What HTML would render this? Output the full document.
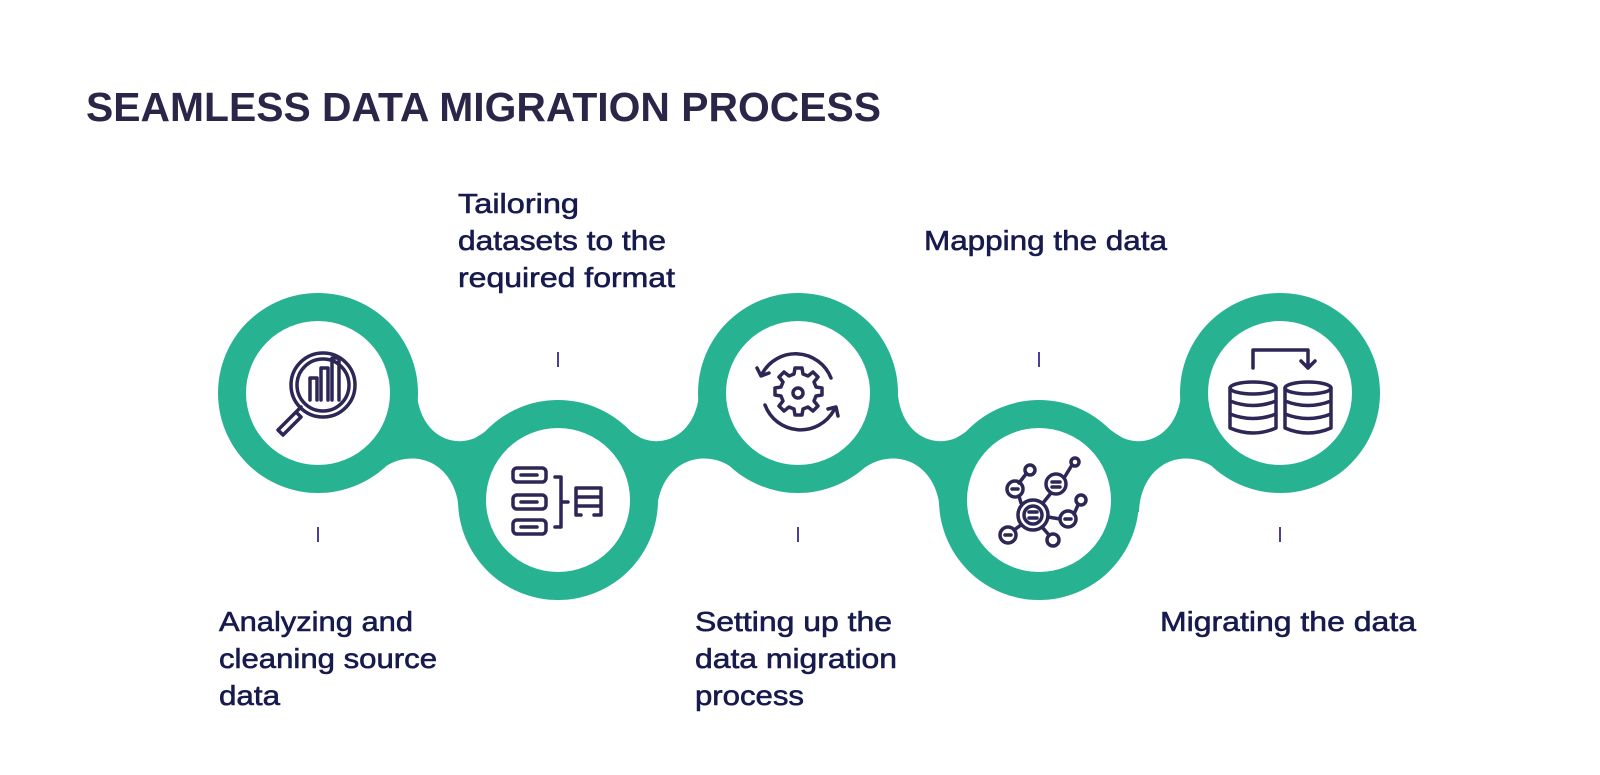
<!DOCTYPE html>
<html><head><meta charset="utf-8"><style>
html,body{margin:0;padding:0;background:#fff;width:1600px;height:775px;overflow:hidden}
svg{display:block}
text{font-family:"Liberation Sans",sans-serif;fill:#161a4d}
</style></head><body>
<svg width="1600" height="775" viewBox="0 0 1600 775" xmlns="http://www.w3.org/2000/svg">
<text x="86" y="121" font-size="41" font-weight="bold" style="fill:#2b2648" textLength="795" lengthAdjust="spacingAndGlyphs">SEAMLESS DATA MIGRATION PROCESS</text>

<g font-size="28" stroke="#161a4d" stroke-width="0.6">
<text x="458" y="213" textLength="121" lengthAdjust="spacingAndGlyphs">Tailoring</text>
<text x="458" y="250" textLength="208" lengthAdjust="spacingAndGlyphs">datasets to the</text>
<text x="458" y="287" textLength="217" lengthAdjust="spacingAndGlyphs">required format</text>
<text x="924" y="250" textLength="243" lengthAdjust="spacingAndGlyphs">Mapping the data</text>
<text x="219" y="631" textLength="194" lengthAdjust="spacingAndGlyphs">Analyzing and</text>
<text x="219" y="668" textLength="218" lengthAdjust="spacingAndGlyphs">cleaning source</text>
<text x="219" y="705" textLength="61" lengthAdjust="spacingAndGlyphs">data</text>
<text x="695" y="631" textLength="197" lengthAdjust="spacingAndGlyphs">Setting up the</text>
<text x="695" y="668" textLength="202" lengthAdjust="spacingAndGlyphs">data migration</text>
<text x="695" y="705" textLength="109" lengthAdjust="spacingAndGlyphs">process</text>
<text x="1160" y="631" textLength="256" lengthAdjust="spacingAndGlyphs">Migrating the data</text>
</g>

<g stroke="#4b3f9c" stroke-width="2">
<line x1="318" y1="527" x2="318" y2="542"/>
<line x1="558" y1="352" x2="558" y2="367"/>
<line x1="798" y1="527" x2="798" y2="542"/>
<line x1="1039" y1="352" x2="1039" y2="367"/>
<line x1="1280" y1="527" x2="1280" y2="542"/>
</g>

<defs>
<path id="neck" d="M417,396 C422,435 452,448 475,438 C482,434 486,431 490,428 L558,500 L459,512 C458,476 432,452 400,460 C392,462 386,466 380,470 L318,393 Z"/>
</defs>
<g fill="#27b291">
<use href="#neck"/>
<use href="#neck" transform="translate(481,0)"/>
<use href="#neck" transform="matrix(-1,0,0,1,1116,0)"/>
<use href="#neck" transform="matrix(-1,0,0,1,1598,0)"/>
<circle cx="318" cy="393" r="100"/>
<circle cx="558" cy="500" r="100"/>
<circle cx="798" cy="393" r="100"/>
<circle cx="1039" cy="500" r="100"/>
<circle cx="1280" cy="393" r="100"/>
</g>
<g fill="#fff">
<circle cx="318" cy="393" r="72"/>
<circle cx="558" cy="500" r="72"/>
<circle cx="798" cy="393" r="72"/>
<circle cx="1039" cy="500" r="72"/>
<circle cx="1280" cy="393" r="72"/>
</g>

<g fill="none" stroke="#2d2756" stroke-width="3.5" stroke-linecap="round" stroke-linejoin="round">
<circle cx="323" cy="385" r="32"/>
<circle cx="323" cy="385" r="26"/>
<path d="M310,400 V378 H317 V400 M321,400 V368 H328 V400 M332,400 V358 H339 V400"/>
<path d="M301,407 L296,412 M296,412 L278,430 L283,435 L301,417 Z" />
<rect x="513" y="468" width="33" height="14" rx="4"/>
<rect x="513" y="495" width="33" height="14" rx="4"/>
<rect x="513" y="520" width="33" height="14" rx="4"/>
<path d="M521,475 H537 M521,502 H537 M521,527 H537"/>
<path d="M555,477 H561 V527 H555 M561,502 H568"/>
<path d="M576,515 V488 H601 V515 H594 M576,497 H601 M576,506 H601 M576,515 H581"/>
<circle cx="798" cy="393" r="5"/>
<path d="M798,368 l4,0 l1,6 l5,2 l5,-4 l5,5 l-4,5 l2,5 l6,1 v7 l-6,1 l-2,5 l4,5 l-5,5 l-5,-4 l-5,2 l-1,6 h-7 l-1,-6 l-5,-2 l-5,4 l-5,-5 l4,-5 l-2,-5 l-6,-1 v-7 l6,-1 l2,-5 l-4,-5 l5,-5 l5,4 l5,-2 l1,-6 z"/>
<path d="M831,378 A38,38 0 0 0 762,374"/>
<path d="M757,368 l4,8 l8,-3"/>
<path d="M765,405 A38,38 0 0 0 834,410"/>
<path d="M838,416 l-2,-9 l-8,2"/>
<circle cx="1033" cy="515" r="15"/>
<circle cx="1033" cy="515" r="9"/>
<path d="M1029,512 h8 M1029,518 h8"/>
<circle cx="1015" cy="489" r="8"/><path d="M1012,489 h6"/>
<circle cx="1030" cy="470" r="5"/>
<circle cx="1056" cy="484" r="10"/><path d="M1052,482 h8 M1052,487 h8"/>
<circle cx="1075" cy="462" r="4"/>
<circle cx="1068" cy="519" r="8"/><path d="M1065,519 h6"/>
<circle cx="1081" cy="500" r="5"/>
<circle cx="1008" cy="535" r="8"/><path d="M1005,535 h6"/>
<circle cx="1053" cy="540" r="6"/>
<path d="M1021,503 L1019,496 M1019,483 L1026,474 M1043,503 L1051,493 M1064,478 L1072,465 M1048,517 L1060,519 M1074,514 L1078,505 M1021,525 L1014,530 M1042,527 L1049,535"/>
<g id="db">
<ellipse cx="1253" cy="388" rx="23" ry="6"/>
<path d="M1230,388 V428 Q1253,438 1276,428 V388 M1230,401 Q1253,410 1276,401 M1230,414 Q1253,423 1276,414"/>
</g>
<use href="#db" transform="translate(55,0)"/>
<path d="M1253,368 V350 H1308 V368 M1301,361 L1308,368 L1315,361"/>
</g>
</svg>
</body></html>
